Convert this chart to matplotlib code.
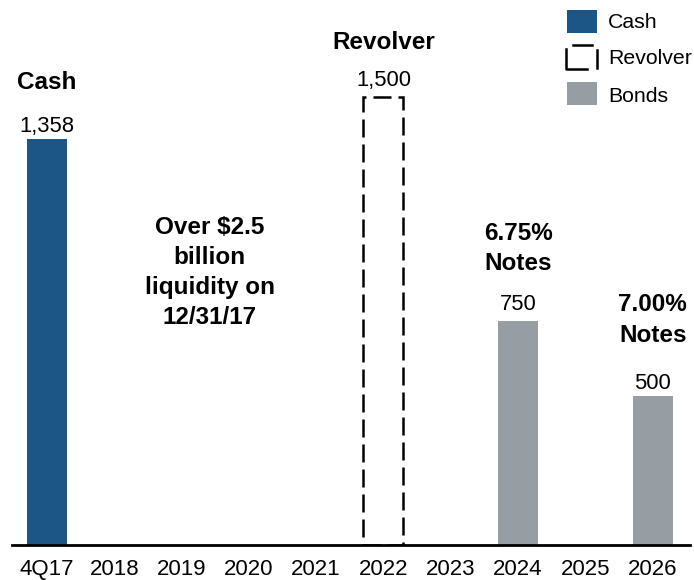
import matplotlib
matplotlib.use("Agg")
import matplotlib.pyplot as plt
from matplotlib.patches import Rectangle

plt.rcParams['font.family'] = ['Liberation Sans', 'DejaVu Sans']

categories = ["4Q17", "2018", "2019", "2020", "2021", "2022", "2023", "2024", "2025", "2026"]
cash = {"4Q17": 1358}
revolver = {"2022": 1500}
bonds = {"2024": 750, "2026": 500}
bond_titles = {"2024": "6.75%\nNotes", "2026": "7.00%\nNotes"}

CASH_C = "#1b5687"
BOND_C = "#969da3"

W, H = 694, 580
fig = plt.figure(figsize=(W / 100, H / 100), dpi=100)
ax = fig.add_axes([12 / W, 35 / H, 678 / W, 545 / H])

xpos = {c: i for i, c in enumerate(categories)}
bw = 0.594

ax.bar([xpos[c] for c in cash], list(cash.values()), width=bw, color=CASH_C, zorder=2)
ax.bar([xpos[c] for c in bonds], list(bonds.values()), width=bw, color=BOND_C, zorder=2)
ax.bar([xpos[c] for c in revolver], list(revolver.values()), width=bw, fill=False,
       edgecolor="black", linewidth=1.8, linestyle=(0, (7.2, 2.8)), zorder=2)

ax.set_xlim(-0.52, 9.555)
ax.set_ylim(0, 1823)
ax.set_xticks(range(len(categories)))
ax.set_xticklabels(categories, fontsize=16)
ax.tick_params(axis="x", length=0, pad=10)
ax.set_yticks([])
for s in ["left", "right", "top"]:
    ax.spines[s].set_visible(False)
ax.spines["bottom"].set_linewidth(2)
ax.spines["bottom"].set_zorder(5)

fs = 15.8
PT = 72 / 100  # points per pixel

def vlabel(cat, val, off_px):
    ax.annotate(f"{val:,}", (xpos[cat], val), xytext=(0, off_px * PT), textcoords="offset points",
                ha="center", va="bottom", fontsize=fs)

for c, v in cash.items():
    vlabel(c, v, 2)
for c, v in revolver.items():
    vlabel(c, v, 6)
for c, v in bonds.items():
    vlabel(c, v, 6 if v > 600 else 2)

def heading(cat, val, txt, off_px):
    ax.annotate(txt, (xpos[cat], val), xytext=(0, off_px * PT), textcoords="offset points",
                ha="center", va="bottom", fontsize=17.5, fontweight="bold", linespacing=1.4)

for c, v in cash.items():
    heading(c, v, "Cash", 45)
for c, v in revolver.items():
    heading(c, v, "Revolver", 43)
heading("2024", bonds["2024"], bond_titles["2024"], 46)
heading("2026", bonds["2026"], bond_titles["2026"], 49)

ax.text(2.42, 911, "Over $2.5\nbillion\nliquidity on\n12/31/17", ha="center", va="center",
        fontsize=17.5, fontweight="bold", linespacing=1.4)

# legend
def fx(px):
    return px / W

def fy(py):
    return 1 - py / H

fig.patches.append(Rectangle((fx(567), fy(33)), 30 / W, 23 / H, transform=fig.transFigure,
                             facecolor=CASH_C, edgecolor="none"))
fig.patches.append(Rectangle((fx(567), fy(105)), 30 / W, 23 / H, transform=fig.transFigure,
                             facecolor=BOND_C, edgecolor="none"))
# revolver legend icon
fig.lines.append(plt.Line2D([fx(566), fx(566), fx(587)], [fy(49), fy(69), fy(69)],
                            transform=fig.transFigure, color="black", lw=1.8))
fig.lines.append(plt.Line2D([fx(573), fx(592)], [fy(45), fy(45)],
                            transform=fig.transFigure, color="black", lw=1.8))
fig.lines.append(plt.Line2D([fx(597), fx(597)], [fy(50), fy(68)],
                            transform=fig.transFigure, color="black", lw=1.8))
for txt, py in [("Cash", 23), ("Revolver", 58), ("Bonds", 96)]:
    fig.text(fx(608), fy(py), txt, ha="left", va="center", fontsize=15.3)

fig.savefig("out.png", dpi=100)
